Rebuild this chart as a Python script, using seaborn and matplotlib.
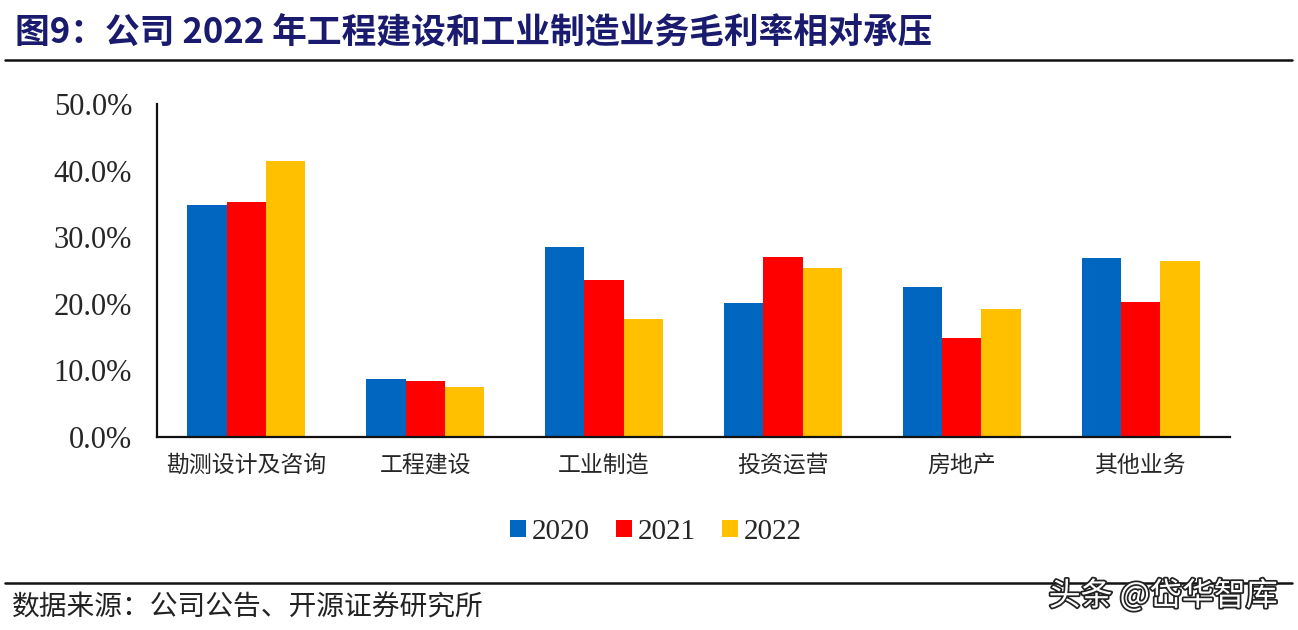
import pandas as pd
import seaborn as sns
import matplotlib.pyplot as plt
import matplotlib.patheffects as pe
from matplotlib.ticker import PercentFormatter, FixedLocator

# Data (gross margin by segment)
categories = ['勘测设计及咨询', '工程建设', '工业制造', '投资运营', '房地产', '其他业务']
years = ['2020', '2021', '2022']
margin_2020 = [34.8, 8.7, 28.5, 20.1, 22.5, 26.9]
margin_2021 = [35.3, 8.4, 23.6, 27.0, 14.9, 20.3]
margin_2022 = [41.4, 7.5, 17.7, 25.4, 19.2, 26.4]
colors = ['#0066C0', '#FF0000', '#FFC000']

df = pd.DataFrame({
    'cat': categories * 3,
    'year': [y for y in years for _ in categories],
    'value': [v / 100 for v in margin_2020 + margin_2021 + margin_2022],
})

sns.set_style('white')
plt.rcParams['font.family'] = ['Noto Sans CJK SC', 'DejaVu Sans']

fig = plt.figure(figsize=(12.98, 6.30), dpi=100)
ax = fig.add_axes([157 / 1298, 1 - 437 / 630, (1230 - 157) / 1298, (437 - 104) / 630])

sns.barplot(data=df, x='cat', y='value', hue='year', palette=colors,
            width=0.66, saturation=1, linewidth=0, ax=ax, legend=True)

ax.set_ylim(0, 0.5)
ax.set_xlim(-0.5, len(categories) - 0.5)
ax.yaxis.set_major_formatter(PercentFormatter(1.0, decimals=1))
ax.set_yticks([0, 0.1, 0.2, 0.3, 0.4, 0.5])
ax.set_xlabel('')
ax.set_ylabel('')
for s in ['top', 'right']:
    ax.spines[s].set_visible(False)
for s in ['left', 'bottom']:
    ax.spines[s].set_color('#111111')
    ax.spines[s].set_linewidth(1.6)

ax.tick_params(axis='y', direction='in', length=7, width=1.4, color='#111111',
               labelsize=22, pad=18)
for t in ax.get_yticklabels():
    t.set_fontfamily('Liberation Serif')
ax.tick_params(axis='x', which='major', length=0, labelsize=16.5, pad=12)
ax.xaxis.set_minor_locator(FixedLocator([i + 0.5 for i in range(len(categories))]))
ax.tick_params(axis='x', which='minor', direction='in', length=7, width=1.4, color='#111111')

handles, labels = ax.get_legend_handles_labels()
ax.legend(handles, labels, loc='center', bbox_to_anchor=(0.465, -0.285), ncol=3,
          frameon=False, handlelength=0.55, handleheight=0.55, handletextpad=0.2,
          columnspacing=0.9, prop={'family': 'Liberation Serif', 'size': 21})

# title and frame lines
fig.text(15 / 1298, 1 - 33 / 630, '图9：公司 2022 年工程建设和工业制造业务毛利率相对承压',
         fontsize=25, fontweight='bold', color='#1A1A6E', va='center', ha='left')
fig.add_artist(plt.Line2D([5 / 1298, 1292 / 1298], [1 - 60 / 630] * 2, color='#111111', lw=1.8))
fig.add_artist(plt.Line2D([5 / 1298, 1292 / 1298], [1 - 583 / 630] * 2, color='#111111', lw=1.8))
fig.text(12 / 1298, 1 - 608 / 630, '数据来源：公司公告、开源证券研究所',
         fontsize=20, color='#222222', va='center', ha='left')
fig.text(1278 / 1298, 1 - 596 / 630, '头条 @岱华智库', fontsize=23, color='white',
         va='center', ha='right',
         path_effects=[pe.withStroke(linewidth=2.5, foreground='#222222')])

fig.savefig('out.png', dpi=100, facecolor='white')
